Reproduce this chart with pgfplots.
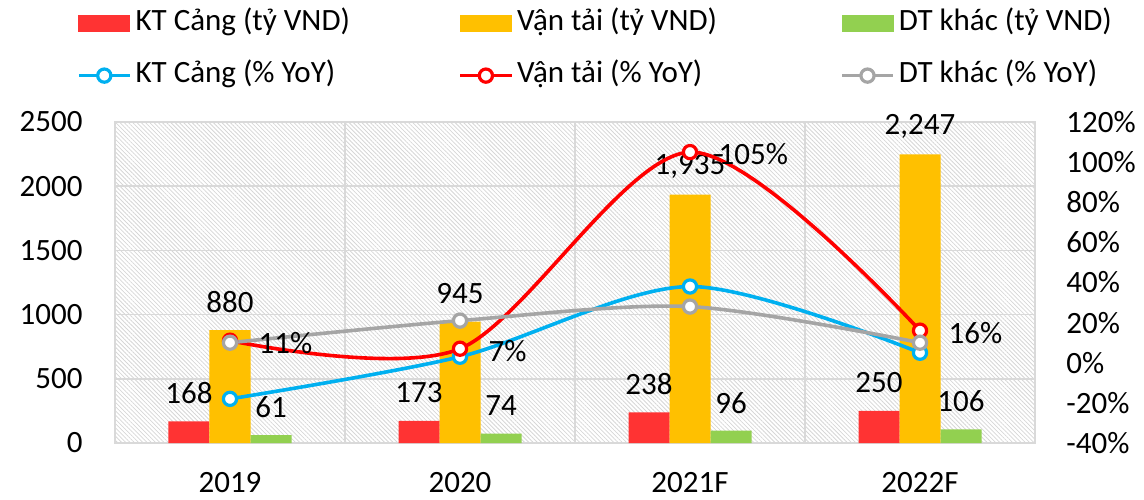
\documentclass[border=0pt]{standalone}
\usepackage{fontspec}
\setmainfont{Carlito}
\usepackage{pgfplots}
\usepackage{pgfplotstable}
\pgfplotsset{compat=1.18}
\usetikzlibrary{patterns.meta}

\definecolor{barRed}{HTML}{FF3333}
\definecolor{barGold}{HTML}{FFC000}
\definecolor{barGreen}{HTML}{92D050}
\definecolor{lineBlue}{HTML}{00B0F0}
\definecolor{lineRed}{HTML}{FF0000}
\definecolor{lineGray}{HTML}{A5A5A5}
\definecolor{gridGray}{HTML}{D9D9D9}

% revenue, billion VND
\pgfplotstableread{
x kt vt dt
1 168 880 61
2 173 945 74
3 238 1935 96
4 250 2247 106
}\revenue

% growth, % YoY
\pgfplotstableread{
x kt vt dt
1 -18 11 10
2 3 7 21
3 38 105 28
4 5 16 10
}\growth

\newcommand{\lbl}{\fontsize{15.5}{18}\selectfont}

\begin{document}
\begin{tikzpicture}
\pgfplotsset{
  base/.style={scale only axis, width=460pt, height=160.5pt,
    xmin=0.5, xmax=4.5, clip=false,
    major tick length=0pt, minor tick length=0pt,
    axis line style={gridGray, line width=0.75pt},
    tick label style={font=\lbl},
    /pgf/number format/assume math mode=true},
  growth line/.style={color=#1, line width=1.8pt, smooth, mark=*, mark size=3.3pt,
    mark options={draw=#1, fill=white, line width=1.6pt}},
}
\begin{axis}[base, name=main,
  ymin=0, ymax=2500, ytick={0,500,...,2500},
  xtick={1,2,3,4}, xticklabels={2019,2020,2021F,2022F},
  minor xtick={1.5,2.5,3.5},
  ymajorgrids, xminorgrids,
  major grid style={gridGray, line width=0.75pt},
  minor grid style={gridGray, line width=0.75pt},
  axis background/.style={pattern={Lines[angle=-45,distance=1.5pt,line width=0.4pt]}, pattern color=black!16},
  yticklabel style={anchor=east, inner sep=0pt, xshift=-16pt},
  xticklabel style={anchor=center, inner sep=0pt, yshift=-20pt},
  /pgf/number format/1000 sep={},
  ybar=0pt, bar width=20.5pt,
  nodes near coords={\pgfmathprintnumber[1000 sep={,}]{\pgfplotspointmeta}},
  every node near coord/.append style={font=\lbl, text=black, anchor=center, yshift=14pt, inner sep=0pt},
]
\addplot[fill=barRed, draw=none] table[x=x,y=kt]{\revenue};
\addplot[fill=barGold, draw=none] table[x=x,y=vt]{\revenue};
\addplot[fill=barGreen, draw=none] table[x=x,y=dt]{\revenue};
\end{axis}

\begin{axis}[base,
  axis y line*=right, axis x line=none,
  ymin=-40, ymax=120, ytick={-40,-20,...,120},
  yticklabel={\pgfmathprintnumber{\tick}\%},
  yticklabel style={anchor=west, inner sep=0pt, xshift=15.5pt},
  legend image code/.code={\draw[mark repeat=2, mark phase=2, #1] plot coordinates {(0pt,0pt) (12.75pt,0pt) (25.5pt,0pt)};},
  legend columns=3, legend cell align=left,
  legend style={draw=none, fill=none, inner sep=0pt, outer sep=0pt,
    at={(axis description cs:-0.0413,1.347)}, anchor=north west,
    font=\lbl, row sep=13pt,
    nodes={inner xsep=2pt, inner ysep=0pt, text height=10pt, text depth=3pt}},
]
\addlegendimage{legend image code/.code={\fill[barRed] (0pt,-4pt) rectangle (25.5pt,4pt);}}
\addlegendentry{\makebox[159.5pt][l]{KT Cảng (tỷ VND)}}
\addlegendimage{legend image code/.code={\fill[barGold] (0pt,-4pt) rectangle (25.5pt,4pt);}}
\addlegendentry{\makebox[159.5pt][l]{Vận tải (tỷ VND)}}
\addlegendimage{legend image code/.code={\fill[barGreen] (0pt,-4pt) rectangle (25.5pt,4pt);}}
\addlegendentry{\makebox[159.5pt][l]{DT khác (tỷ VND)}}

\addplot[growth line=lineBlue] table[x=x,y=kt]{\growth};
\addlegendentry{KT Cảng (\% YoY)}
\addplot[growth line=lineRed,
  nodes near coords={\pgfmathprintnumber{\pgfplotspointmeta}\%},
  every node near coord/.append style={font=\lbl, text=black, anchor=west, xshift=13.5pt, yshift=-1pt, inner sep=0pt}]
  table[x=x,y=vt]{\growth};
\addlegendentry{Vận tải (\% YoY)}
\addplot[growth line=lineGray] table[x=x,y=dt]{\growth};
\addlegendentry{DT khác (\% YoY)}
\end{axis}

\pgfresetboundingbox
\path ([xshift=-57.5pt,yshift=-28pt]main.south west) rectangle ([xshift=54.5pt,yshift=61pt]main.north east);
\end{tikzpicture}
\end{document}
